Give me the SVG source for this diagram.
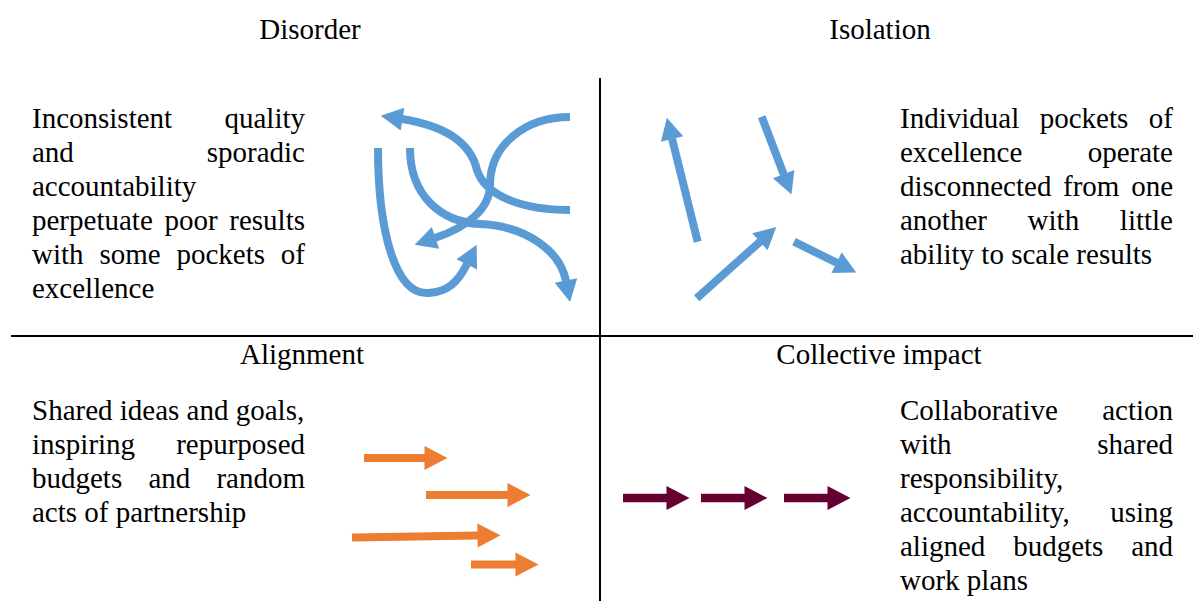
<svg xmlns="http://www.w3.org/2000/svg" width="1193" height="601" viewBox="0 0 1193 601" font-family="'Liberation Serif', 'DejaVu Serif', serif">
  <style>
    text { font-size: 29px; fill: #000; }
    .head { text-anchor: middle; }
    .end { text-anchor: end; }
    .divider { stroke: #000; stroke-width: 2; fill: none; }
    .blue { stroke: #5B9BD5; stroke-width: 8; fill: none; marker-end: url(#headBlue); }
    .orange { stroke: #ED7D31; stroke-width: 8; fill: none; marker-end: url(#headOrange); }
    .maroon { stroke: #660033; stroke-width: 8.5; fill: none; marker-end: url(#headMaroon); }
  </style>
  <defs>
    <marker id="headBlue" markerUnits="userSpaceOnUse" orient="auto" refX="0.5" refY="0" markerWidth="30" markerHeight="30" overflow="visible">
      <path d="M0,-11.5 L22,0 L0,11.5 Z" fill="#5B9BD5"/>
    </marker>
    <marker id="headOrange" markerUnits="userSpaceOnUse" orient="auto" refX="0.5" refY="0" markerWidth="30" markerHeight="30" overflow="visible">
      <path d="M0,-12 L23,0 L0,12 Z" fill="#ED7D31"/>
    </marker>
    <marker id="headMaroon" markerUnits="userSpaceOnUse" orient="auto" refX="0.5" refY="0" markerWidth="30" markerHeight="30" overflow="visible">
      <path d="M0,-12 L23,0 L0,12 Z" fill="#660033"/>
    </marker>
  </defs>

  <rect width="1193" height="601" fill="#fff"/>

  <!-- quadrant dividers -->
  <g id="dividers">
    <line class="divider" x1="600" y1="78" x2="600" y2="601"/>
    <line class="divider" x1="11" y1="336" x2="1193" y2="336"/>
  </g>

  <!-- top left: Disorder -->
  <g id="disorder">
    <text class="head" x="310" y="39">Disorder</text>
    <text x="32" y="128">Inconsistent</text>
    <text class="end" x="305" y="128">quality</text>
    <text x="32" y="162">and</text>
    <text class="end" x="305" y="162">sporadic</text>
    <text x="32" y="196">accountability</text>
    <text x="32" y="230">perpetuate</text>
    <text x="164.4" y="230">poor</text>
    <text class="end" x="305" y="230">results</text>
    <text x="32" y="264">with</text>
    <text x="99.4" y="264">some</text>
    <text x="176.4" y="264">pockets</text>
    <text class="end" x="305" y="264">of</text>
    <text x="32" y="298">excellence</text>
  </g>

  <!-- top right: Isolation -->
  <g id="isolation">
    <text class="head" x="880" y="39">Isolation</text>
    <text x="900" y="128">Individual</text>
    <text x="1039.7" y="128">pockets</text>
    <text class="end" x="1173" y="128">of</text>
    <text x="900" y="162">excellence</text>
    <text class="end" x="1173" y="162">operate</text>
    <text x="900" y="196">disconnected</text>
    <text x="1063" y="196">from</text>
    <text class="end" x="1173" y="196">one</text>
    <text x="900" y="230">another</text>
    <text x="1027.6" y="230">with</text>
    <text class="end" x="1173" y="230">little</text>
    <text x="900" y="264">ability to scale results</text>
  </g>

  <!-- bottom left: Alignment -->
  <g id="alignment">
    <text class="head" x="302" y="364">Alignment</text>
    <text x="32" y="420">Shared ideas and goals,</text>
    <text x="32" y="454">inspiring</text>
    <text class="end" x="305" y="454">repurposed</text>
    <text x="32" y="488">budgets</text>
    <text x="148.4" y="488">and</text>
    <text class="end" x="305" y="488">random</text>
    <text x="32" y="522">acts of partnership</text>
  </g>

  <!-- bottom right: Collective impact -->
  <g id="collective-impact">
    <text class="head" x="879" y="364">Collective impact</text>
    <text x="900" y="420">Collaborative</text>
    <text class="end" x="1173" y="420">action</text>
    <text x="900" y="454">with</text>
    <text class="end" x="1173" y="454">shared</text>
    <text x="900" y="488">responsibility,</text>
    <text x="900" y="522">accountability,</text>
    <text class="end" x="1173" y="522">using</text>
    <text x="900" y="556">aligned</text>
    <text x="1013.2" y="556">budgets</text>
    <text class="end" x="1173" y="556">and</text>
    <text x="900" y="590">work plans</text>
  </g>

  <!-- arrows -->
  <g id="connectors">
    <!-- tangled curves -->
    <path class="blue" d="M570,117 C525,117 490,145 490,185 C490,210 465,228 435,238"/>
    <path class="blue" d="M570,210 C520,210 485,195 477,170 C470,140 440,125 402,119"/>
    <path class="blue" d="M410,148 C410,195 440,222 480,224 C525,226 560,250 566,281"/>
    <path class="blue" d="M378,148 C378,230 395,295 428,293 C448,292 458,282 467,264"/>
    <!-- scattered straight arrows -->
    <path class="blue" d="M697.7,241.7 L672,138.6"/>
    <path class="blue" d="M761.7,116.7 L783.8,174.5"/>
    <path class="blue" d="M696.7,298.3 L760.3,241.4"/>
    <path class="blue" d="M794,241.7 L837,262.9"/>
    <!-- loosely aligned arrows -->
    <path class="orange" d="M364,458 L425,458"/>
    <path class="orange" d="M426,495 L508,495"/>
    <path class="orange" d="M352,537.5 L478,535.5"/>
    <path class="orange" d="M471,564.5 L516,564.5"/>
    <!-- chained arrows -->
    <path class="maroon" d="M623,498 L667,498"/>
    <path class="maroon" d="M701,498 L745,498"/>
    <path class="maroon" d="M784,498 L828,498"/>
  </g>
</svg>
